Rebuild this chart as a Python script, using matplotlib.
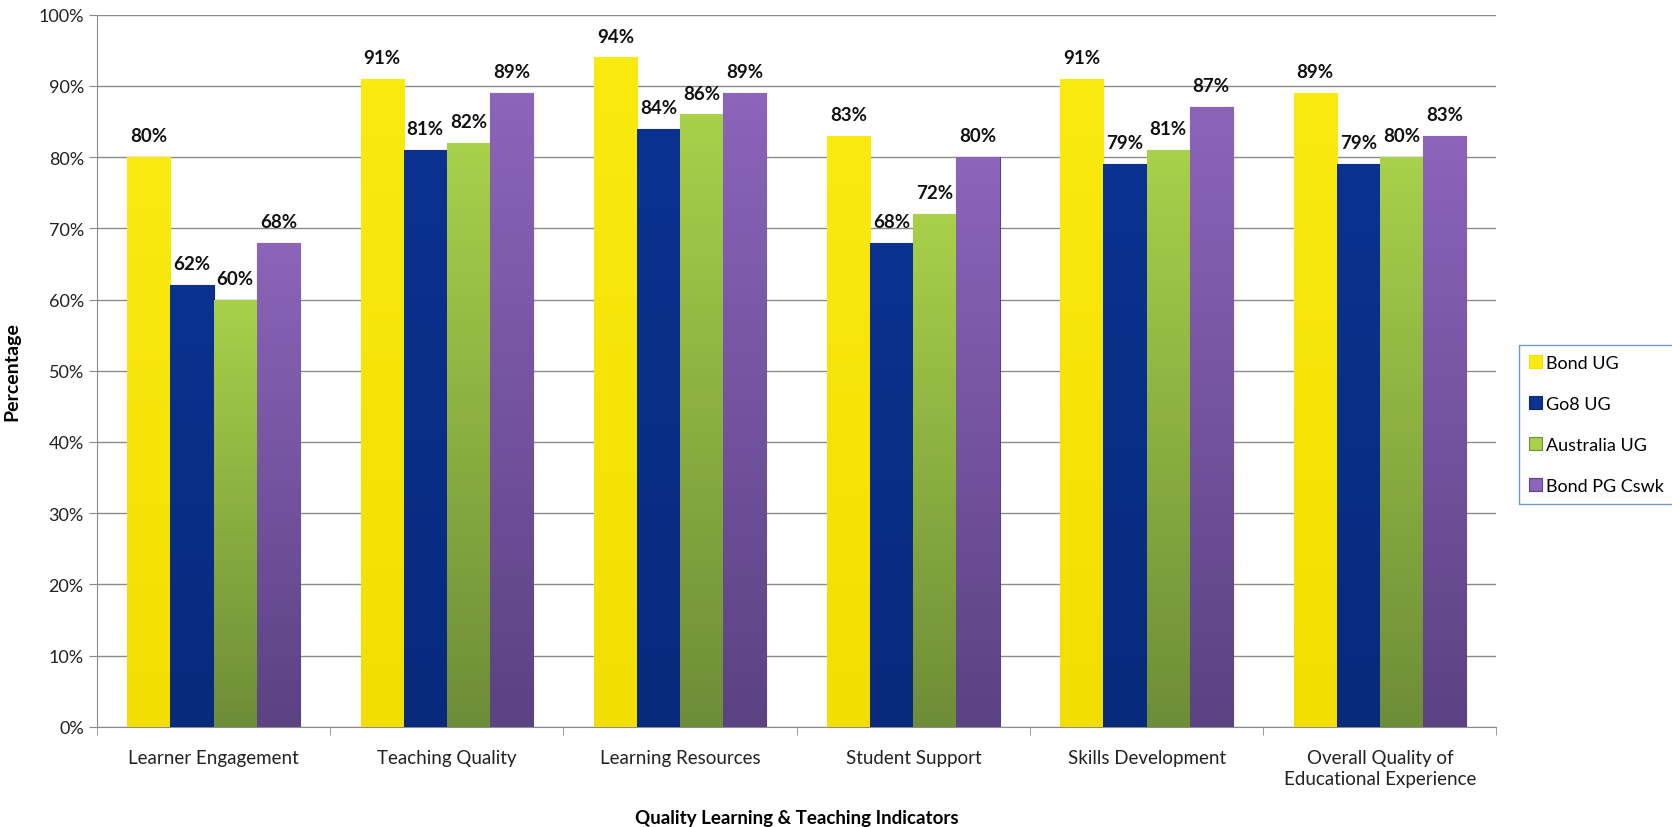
import numpy as np
import matplotlib
matplotlib.use("Agg")
import matplotlib.pyplot as plt
from matplotlib.colors import LinearSegmentedColormap
from matplotlib.ticker import FuncFormatter, MultipleLocator, FixedLocator

categories = ["Learner Engagement", "Teaching Quality", "Learning Resources",
              "Student Support", "Skills Development",
              "Overall Quality of\nEducational Experience"]
series_names = ["Bond UG", "Go8 UG", "Australia UG", "Bond PG Cswk"]
bond_ug = [80, 91, 94, 83, 91, 89]
go8_ug = [62, 81, 84, 68, 79, 79]
australia_ug = [60, 82, 86, 72, 81, 80]
bond_pg_cswk = [68, 89, 89, 80, 87, 83]

# (top colour, bottom colour) for each series
colours = [("#FAEA10", "#F2DE02"),
           ("#0B3290", "#072A7C"),
           ("#A8D04A", "#6E8D38"),
           ("#8C64BA", "#5B4283")]

plt.rcParams['font.family'] = ['Lato', 'DejaVu Sans']

fig = plt.figure(figsize=(16.72, 8.28), dpi=100)
ax = fig.add_axes([0.058, 0.121, 0.837, 0.860])

series = [bond_ug, go8_ug, australia_ug, bond_pg_cswk]
x = np.arange(len(categories))
width = 0.185
offsets = (np.arange(4) - 1.5) * width

for i, (vals, name) in enumerate(zip(series, series_names)):
    top, bot = colours[i]
    cmap = LinearSegmentedColormap.from_list(name, [bot, top])
    bars = ax.bar(x + offsets[i], vals, width, color=top, edgecolor=bot,
                  linewidth=0.8, label=name, zorder=3)
    for b in bars:
        bx, by = b.get_x(), b.get_y()
        bw, bh = b.get_width(), b.get_height()
        grad = np.linspace(0, 1, 100).reshape(-1, 1)
        im = ax.imshow(grad, cmap=cmap, origin="lower", aspect="auto",
                       extent=[bx, bx + bw, by, by + bh], zorder=3.5)
        im.set_clip_path(b)
        ax.text(bx + bw / 2, bh + 3.0, f"{bh:.0f}%", ha="center", va="center",
                fontsize=13.5, fontweight="bold", color="#111111", zorder=5)

ax.set_xlim(-0.5, len(categories) - 0.5)
ax.set_ylim(0, 100)
ax.yaxis.set_major_locator(MultipleLocator(10))
ax.yaxis.set_major_formatter(FuncFormatter(lambda v, p: f"{v:.0f}%"))
ax.grid(axis="y", color="#8C8C8C", linewidth=1.0, zorder=0)
ax.set_axisbelow(True)

ax.set_xticks(x)
ax.set_xticklabels(categories, fontsize=13.5, color="#222222", linespacing=1.25)
ax.tick_params(axis="x", length=0, pad=16)
ax.xaxis.set_minor_locator(FixedLocator(np.arange(-0.5, len(categories), 1.0)))
ax.tick_params(axis="x", which="minor", length=6, color="#8C8C8C")
ax.tick_params(axis="y", labelsize=13, length=6, color="#8C8C8C", labelcolor="#222222")

for s in ["top", "right"]:
    ax.spines[s].set_visible(False)
for s in ["left", "bottom"]:
    ax.spines[s].set_color("#8C8C8C")

ax.set_ylabel("Percentage", fontsize=14, fontweight="bold", labelpad=13)
ax.set_xlabel("Quality Learning & Teaching Indicators", fontsize=13.5,
              fontweight="bold", labelpad=16)

leg = fig.legend(loc="upper left", bbox_to_anchor=(0.9085, 0.582), fontsize=13,
                 frameon=True, fancybox=False, edgecolor="#4F81BD",
                 handlelength=0.72, handleheight=0.72, handletextpad=0.22,
                 labelspacing=1.38, borderpad=0.55, borderaxespad=0)
leg.get_frame().set_linewidth(1.0)

fig.savefig("out.png", dpi=100)
